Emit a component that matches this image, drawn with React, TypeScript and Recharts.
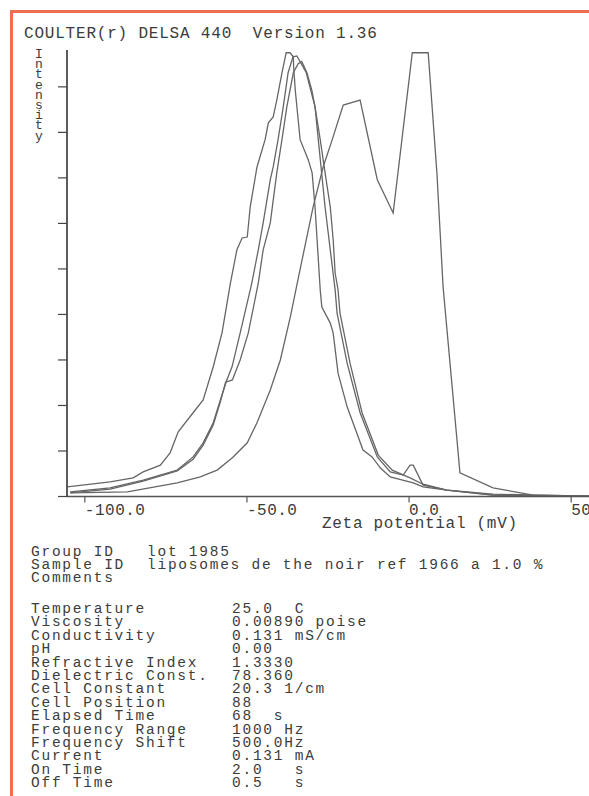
import React from 'react';
import { LineChart, Line, XAxis, YAxis } from 'recharts';

const titleText = 'COULTER(r) DELSA 440  Version 1.36';
const yAxisTitle = 'Intensity';
const xAxisTitle = 'Zeta potential (mV)';

const xTicks = [-100, -50, 0, 50];
const yTicks = [0, 1, 2, 3, 4, 5, 6, 7, 8, 9];

// Curve A: broad leftmost run
const curveAX = [-105.4, -92.2, -85.1, -82.0, -76.7, -73.7, -71.2, -66.6, -63.5, -60.4, -57.7, -55.1, -53.1, -51.5, -49.9, -49.0, -46.9, -44.4, -43.4, -41.9, -40.8, -39.2, -37.9, -36.7, -35.7, -35.6, -35.1, -33.6, -31.1, -29.9, -29.0, -27.4, -26.9, -24.3, -23.4, -21.9, -19.1, -14.2, -11.4, -8.9, -5.8, 1.3, 4.3, 11.7, 25.9, 55.5];
const curveAY = [0.21, 0.32, 0.41, 0.54, 0.69, 0.96, 1.42, 1.84, 2.12, 2.85, 3.59, 4.69, 5.42, 5.68, 5.70, 6.36, 7.24, 7.84, 8.21, 8.34, 8.71, 9.31, 9.75, 9.75, 9.66, 9.45, 8.93, 7.84, 7.40, 7.11, 6.36, 4.54, 4.16, 3.81, 3.59, 2.71, 1.97, 1.02, 0.87, 0.63, 0.43, 0.30, 0.21, 0.14, 0.03, 0.01];

// Curve B: middle run with the small bump near 0 mV
const curveBX = [-104.5, -92.2, -82.0, -71.5, -66.6, -63.5, -60.4, -58.2, -56.2, -54.6, -52.1, -48.5, -46.5, -45.0, -42.8, -41.9, -40.4, -38.8, -37.3, -35.8, -34.6, -31.7, -29.0, -28.0, -25.9, -24.3, -22.8, -22.2, -19.1, -15.1, -9.8, -5.8, -1.8, 0.3, 1.3, 4.3, 11.7, 25.9, 55.5];
const curveBY = [0.10, 0.19, 0.36, 0.58, 0.87, 1.18, 1.62, 2.12, 2.56, 2.85, 3.59, 4.69, 5.42, 6.01, 6.96, 7.24, 7.84, 8.56, 9.31, 9.66, 9.68, 9.31, 8.56, 7.84, 6.36, 5.42, 4.54, 4.03, 2.93, 1.84, 0.87, 0.54, 0.47, 0.69, 0.69, 0.25, 0.14, 0.05, 0.01];

// Curve C: middle run, slightly right
const curveCX = [-104.5, -92.2, -82.0, -71.5, -66.6, -63.5, -60.4, -58.2, -56.6, -54.5, -52.1, -49.6, -46.5, -45.0, -42.8, -40.8, -39.2, -37.7, -35.7, -34.2, -33.1, -31.5, -30.0, -29.0, -27.4, -25.9, -24.3, -23.4, -22.8, -21.9, -21.3, -18.2, -14.5, -9.5, -5.2, 0.3, 4.3, 11.7, 25.9, 55.5];
const curveCY = [0.08, 0.16, 0.34, 0.56, 0.82, 1.13, 1.57, 2.08, 2.51, 2.56, 3.00, 3.59, 4.69, 5.42, 6.01, 7.11, 7.84, 8.56, 9.31, 9.51, 9.56, 9.31, 8.93, 8.56, 7.84, 7.11, 6.36, 5.64, 4.91, 4.54, 4.03, 2.93, 1.84, 0.91, 0.58, 0.41, 0.27, 0.14, 0.03, 0.01];

// Curve E: bimodal run
const curveEX = [-104.5, -86.9, -71.5, -64.4, -59.2, -54.5, -49.9, -46.9, -42.8, -39.7, -36.6, -34.1, -29.6, -26.5, -23.7, -20.3, -15.1, -9.8, -4.9, 1.0, 5.9, 8.6, 10.5, 15.7, 25.9, 38.3, 55.5];
const curveEY = [0.08, 0.10, 0.30, 0.43, 0.58, 0.85, 1.18, 1.62, 2.34, 3.00, 3.95, 4.82, 6.36, 7.24, 7.84, 8.60, 8.71, 6.96, 6.23, 9.75, 9.75, 7.10, 4.60, 0.52, 0.19, 0.03, 0.01];

const groupLabels = ['Group ID', 'Sample ID', 'Comments'];
const groupValues = ['lot 1985', 'liposomes de the noir ref 1966 a 1.0 %', ''];

const paramLabels = ['Temperature', 'Viscosity', 'Conductivity', 'pH', 'Refractive Index', 'Dielectric Const.', 'Cell Constant', 'Cell Position', 'Elapsed Time', 'Frequency Range', 'Frequency Shift', 'Current', 'On Time', 'Off Time'];
const paramValues = ['25.0  C', '0.00890 poise', '0.131 mS/cm', '0.00', '1.3330', '78.360', '20.3 1/cm', '88', '68  s', '1000 Hz', '500.0Hz', '0.131 mA', '2.0   s', '0.5   s'];

const toPoints = (xs: number[], ys: number[]) => xs.map((x, i) => ({ x, y: ys[i] }));

const MONO = '"Liberation Mono", "DejaVu Sans Mono", monospace';
const INK = '#3c3c3c';
const CURVE = '#666666';

const XTick = (props: any) => {
  const { x, y, payload } = props;
  return (
    <text x={x} y={y} dy={10} textAnchor="start" fontFamily={MONO} fontSize={16} letterSpacing={0.5} fill={INK}>
      {Number(payload.value).toFixed(1)}
    </text>
  );
};

const XLabel = (props: any) => {
  const vb = props.viewBox || {};
  return (
    <text x={vb.x + 255} y={vb.y + 31} textAnchor="start" fontFamily={MONO} fontSize={16} letterSpacing={0.7} fill={INK}>
      {xAxisTitle}
    </text>
  );
};

export default function App() {
  const series = [
    toPoints(curveAX, curveAY),
    toPoints(curveBX, curveBY),
    toPoints(curveCX, curveCY),
    toPoints(curveEX, curveEY),
  ];
  const infoStyle: React.CSSProperties = {
    fontFamily: MONO,
    fontSize: 14.5,
    letterSpacing: 1.75,
    color: INK,
    whiteSpace: 'pre',
    lineHeight: '13.4px',
  };
  return (
    <div style={{ position: 'absolute', left: 0, top: 0, width: 589, height: 796, overflow: 'hidden', background: '#fff' }}>
      <div style={{ position: 'absolute', left: 10, top: 10, width: 600, height: 800, borderLeft: '3px solid #ef6e4f', borderTop: '3px solid #ef6e4f' }} />
      <div style={{ position: 'absolute', left: 0, top: 0 }}>
        <LineChart width={589} height={540} margin={{ top: 50, right: 0, bottom: 0, left: 0 }}>
          <XAxis
            type="number"
            dataKey="x"
            domain={[-105.5, 55.5]}
            ticks={xTicks}
            allowDataOverflow
            height={43.5}
            tickSize={6}
            tick={<XTick />}
            axisLine={{ stroke: '#555', strokeWidth: 1.6 }}
            tickLine={{ stroke: '#555', strokeWidth: 1.2 }}
            label={<XLabel />}
          />
          <YAxis
            type="number"
            dataKey="y"
            domain={[0, 9.81]}
            ticks={yTicks}
            allowDataOverflow
            width={67}
            tickSize={9}
            tickFormatter={() => ''}
            axisLine={{ stroke: '#333', strokeWidth: 1.6 }}
            tickLine={{ stroke: '#444', strokeWidth: 1.2 }}
          />
          {series.map((d, i) => (
            <Line
              key={i}
              data={d}
              dataKey="y"
              type="linear"
              stroke={CURVE}
              strokeWidth={1.3}
              dot={false}
              isAnimationActive={false}
            />
          ))}
        </LineChart>
      </div>
      <div style={{ position: 'absolute', left: 24, top: 26, fontFamily: MONO, fontSize: 16, letterSpacing: 0.8, color: INK, whiteSpace: 'pre', lineHeight: '16px' }}>
        {titleText}
      </div>
      <div style={{ position: 'absolute', left: 35, top: 50, width: '1ch', fontFamily: MONO, fontSize: 13, color: INK, wordBreak: 'break-all', lineHeight: '10.2px', textAlign: 'center' }}>
        {yAxisTitle}
      </div>
      <div style={{ position: 'absolute', left: 31, top: 546 }}>
        {groupLabels.map((l, i) => (
          <div key={i} style={{ ...infoStyle, lineHeight: '13px', height: '13px', position: 'relative' }}>
            <span>{l}</span>
            <span style={{ position: 'absolute', left: 116 }}>{groupValues[i]}</span>
          </div>
        ))}
      </div>
      <div style={{ position: 'absolute', left: 31, top: 603 }}>
        {paramLabels.map((l, i) => (
          <div key={i} style={{ ...infoStyle, height: '13.4px', position: 'relative' }}>
            <span>{l}</span>
            <span style={{ position: 'absolute', left: 201 }}>{paramValues[i]}</span>
          </div>
        ))}
      </div>
    </div>
  );
}
